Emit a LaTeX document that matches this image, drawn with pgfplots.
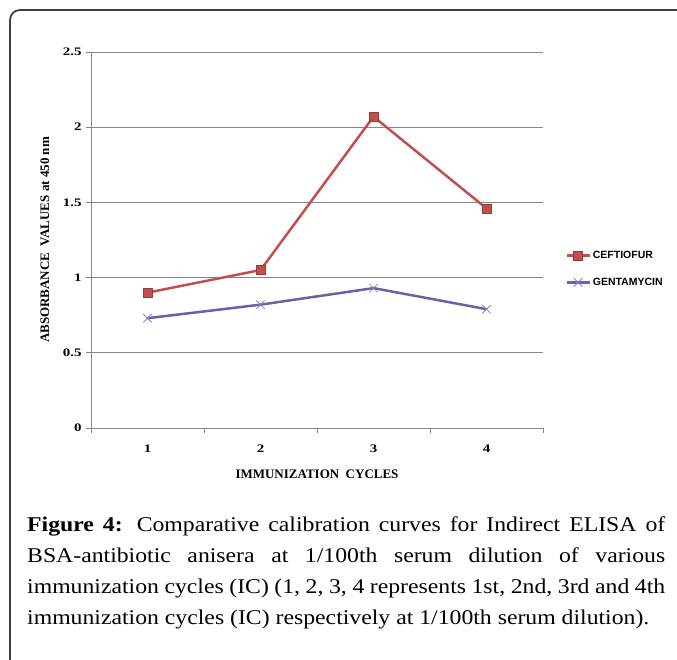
\documentclass[border=0pt]{standalone}
\usepackage{fontspec}
\setmainfont{Liberation Serif}
\newfontfamily\legfont{Liberation Sans}
\newfontfamily\capfont[FakeStretch=1.13]{Liberation Serif}
\newfontfamily\tickfont[FakeStretch=1.3]{Liberation Serif}
\usepackage{pgfplots}
\pgfplotsset{compat=1.18}
\definecolor{cef}{HTML}{C0504D}
\definecolor{cefdark}{HTML}{9E3B38}
\definecolor{gen}{HTML}{6F5FA8}
\definecolor{genmark}{HTML}{8A7FBF}
\definecolor{gridc}{HTML}{868686}
\begin{document}
\begin{tikzpicture}[x=1bp,y=1bp]
\useasboundingbox (0,0) rectangle (677,660);
\begin{scope}
\clip (0,0) rectangle (677,660);
\draw[line width=1.8bp, color=black!75, rounded corners=10bp] (10,-20) -- (10,650) -- (700,650);
\end{scope}
\begin{axis}[
  at={(91bp,232bp)}, anchor=south west, scale only axis,
  width=452bp, height=376bp,
  xmin=0.5, xmax=4.5, ymin=0, ymax=2.5,
  axis x line*=bottom, axis y line*=left,
  axis line style={gridc, line width=0.8bp},
  ytick={0,0.5,1,1.5,2,2.5},
  yticklabels={0,0.5,1,1.5,2,2.5},
  xtick={1,2,3,4}, xticklabels={1,2,3,4},
  minor xtick={0.5,1.5,2.5,3.5,4.5},
  major x tick style={draw=none},
  minor x tick style={gridc, line width=0.8bp},
  y tick style={gridc, line width=0.8bp},
  tick align=outside, major tick length=5bp, minor tick length=5bp,
  ymajorgrids, grid style={gridc, line width=0.8bp},
  yticklabel style={font=\tickfont\fontsize{11.5bp}{14bp}\selectfont\bfseries, xshift=-1bp},
  xticklabel style={font=\tickfont\fontsize{11.5bp}{14bp}\selectfont\bfseries, yshift=-8bp},
  xlabel={IMMUNIZATION\ \ CYCLES},
  ylabel={ABSORBANCE\ \ VALUES at 450 nm},
  every axis x label/.style={at={(axis description cs:0.5,-0.1223)}, anchor=center,
    font=\fontsize{13bp}{15bp}\selectfont\bfseries},
  every axis y label/.style={at={(axis description cs:-0.1018,0.5)}, rotate=90, anchor=center,
    font=\fontsize{13bp}{15bp}\selectfont\bfseries},
  legend style={at={(axis description cs:1.049,0.423)}, anchor=west, draw=none, fill=none,
    font=\legfont\bfseries\fontsize{10.5bp}{12bp}\selectfont, row sep=14bp, inner sep=0pt,
    cells={anchor=west}},
  legend image code/.code={\draw[mark repeat=2,mark phase=2,#1] plot coordinates {(0bp,0bp) (11.5bp,0bp) (23bp,0bp)};},
  clip=false,
]
\addplot[cef, line width=2.5bp, mark=square*, mark size=4.5bp,
  mark options={fill=cef, draw=cefdark, line width=0.5bp}]
  coordinates {(1,0.90) (2,1.05) (3,2.07) (4,1.46)};
\addlegendentry{CEFTIOFUR}
\addplot[gen, line width=2.5bp, mark=x, mark size=6bp,
  mark options={draw=genmark, line width=0.8bp}]
  coordinates {(1,0.73) (2,0.82) (3,0.93) (4,0.79)};
\addlegendentry{GENTAMYCIN}
\end{axis}
\node[anchor=north west, inner sep=0pt, text width=638bp, align=justify,
  font=\capfont\fontsize{21bp}{31bp}\selectfont] at (27,143)
  {\textbf{Figure 4:} Comparative calibration curves for Indirect ELISA of\linebreak
   BSA-antibiotic anisera at 1/100th serum dilution of various\linebreak
   immunization cycles (IC) (1, 2, 3, 4 represents 1st, 2nd, 3rd and 4th\linebreak
   immunization cycles (IC) respectively at 1/100th serum dilution).};
\end{tikzpicture}
\end{document}
